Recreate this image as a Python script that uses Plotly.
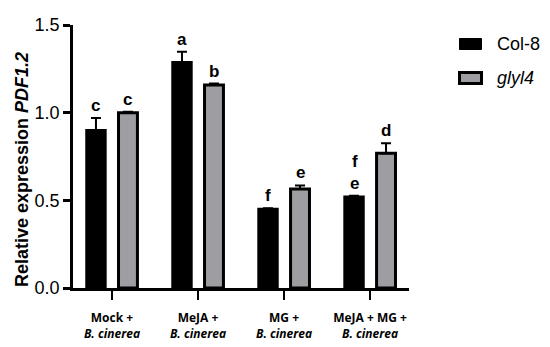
import plotly.graph_objects as go

categories = ["Mock +", "MeJA +", "MG +", "MeJA + MG +"]
subtitle = "B. cinerea"
series_names = ["Col-8", "glyl4"]
col8_values = [0.90, 1.287, 0.45, 0.521]
col8_errors = [0.07, 0.06, 0.005, 0.005]
glyl4_values = [1.00, 1.158, 0.565, 0.768]
glyl4_errors = [0.005, 0.008, 0.02, 0.057]
col8_letters = ["c", "a", "f", "f<br>e"]
glyl4_letters = ["c", "b", "e", "d"]
y_ticks = [0.0, 0.5, 1.0, 1.5]

x_pos = list(range(len(categories)))
FONT = "Liberation Sans, Arial, sans-serif"
offset = 0.186
bar_w = 0.22

W_PLOT = 336.0
H_PLOT = 263.0
def px(p):
    return (p - 73) / W_PLOT
def py(p):
    return (288 - p) / H_PLOT

fig = go.Figure()
fig.add_trace(go.Bar(
    x=x_pos, y=col8_values, name=series_names[0],
    width=bar_w, offset=-offset - bar_w / 2,
    marker=dict(color="#000000", line=dict(color="#000000", width=2.5)),
    error_y=dict(type="data", array=col8_errors, arrayminus=[0]*4, symmetric=False,
                 color="#000000", thickness=2, width=5),
    showlegend=False,
))
fig.add_trace(go.Bar(
    x=x_pos, y=glyl4_values, name=series_names[1],
    width=bar_w, offset=offset - bar_w / 2,
    marker=dict(color="#9e9ea2", line=dict(color="#000000", width=3)),
    error_y=dict(type="data", array=glyl4_errors, arrayminus=[0]*4, symmetric=False,
                 color="#000000", thickness=2, width=5),
    showlegend=False,
))

annotations = []
for i in x_pos:
    for vals, errs, letters, sign in ((col8_values, col8_errors, col8_letters, -1),
                                     (glyl4_values, glyl4_errors, glyl4_letters, 1)):
        annotations.append(dict(
            x=i + sign * offset, y=vals[i] + errs[i], xref="x", yref="y",
            text="<b>" + letters[i] + "</b>", showarrow=False,
            yanchor="bottom", xanchor="center", yshift=1,
            font=dict(family=FONT, size=17, color="#000000"),
        ))

# y axis title
annotations.append(dict(
    x=px(22), xref="paper", y=py(170), yref="paper", showarrow=False,
    xanchor="center", yanchor="middle",
    text="<b>Relative expression <i>PDF1.2</i></b>", textangle=-90,
    font=dict(family=FONT, size=18, color="#000000"),
))

# custom legend
shapes = []
legend_styles = [dict(fill="#000000", lw=1), dict(fill="#9e9ea2", lw=3)]
legend_rows = [44, 78]
for name, st, yc in zip(series_names, legend_styles, legend_rows):
    shapes.append(dict(type="rect", xref="paper", yref="paper",
                       x0=px(459.5), x1=px(481.5), y0=py(yc - 5.5), y1=py(yc + 5.5),
                       fillcolor=st["fill"], line=dict(color="#000000", width=st["lw"])))
    txt = name if name == "Col-8" else "<i>" + name + "</i>"
    annotations.append(dict(x=px(495), y=py(yc), xref="paper", yref="paper",
                            xanchor="left", yanchor="middle", showarrow=False,
                            text=txt, font=dict(family=FONT, size=18, color="#000000")))

ticktext = ["<b>" + c + "</b><br><b><i>" + subtitle + "</i></b>" for c in categories]

fig.update_layout(
    width=550, height=347,
    margin=dict(l=73, r=141, t=25, b=59, pad=0),
    plot_bgcolor="white", paper_bgcolor="white",
    annotations=annotations, shapes=shapes,
    xaxis=dict(range=[-0.453, 3.453], tickvals=x_pos, ticktext=ticktext,
               automargin=False,
               showgrid=False, zeroline=False, showline=True, linecolor="#000000",
               linewidth=2.5, ticks="outside", ticklen=9, tickwidth=2, tickcolor="#000000",
               ticklabelstandoff=8,
               tickfont=dict(family="Open Sans, sans-serif", size=12, color="#000000")),
    yaxis=dict(range=[0, 1.5], tickvals=y_ticks, ticktext=["0.0", "0.5", "1.0", "1.5"],
               automargin=False,
               showgrid=False, zeroline=False, showline=True, linecolor="#000000",
               linewidth=2.5, ticks="outside", ticklen=7, tickwidth=2.5, tickcolor="#000000",
               tickfont=dict(family=FONT, size=18, color="#000000")),
)

fig.write_html("out.html", config={"displayModeBar": False},
               post_script="document.body.style.margin='0px';")
